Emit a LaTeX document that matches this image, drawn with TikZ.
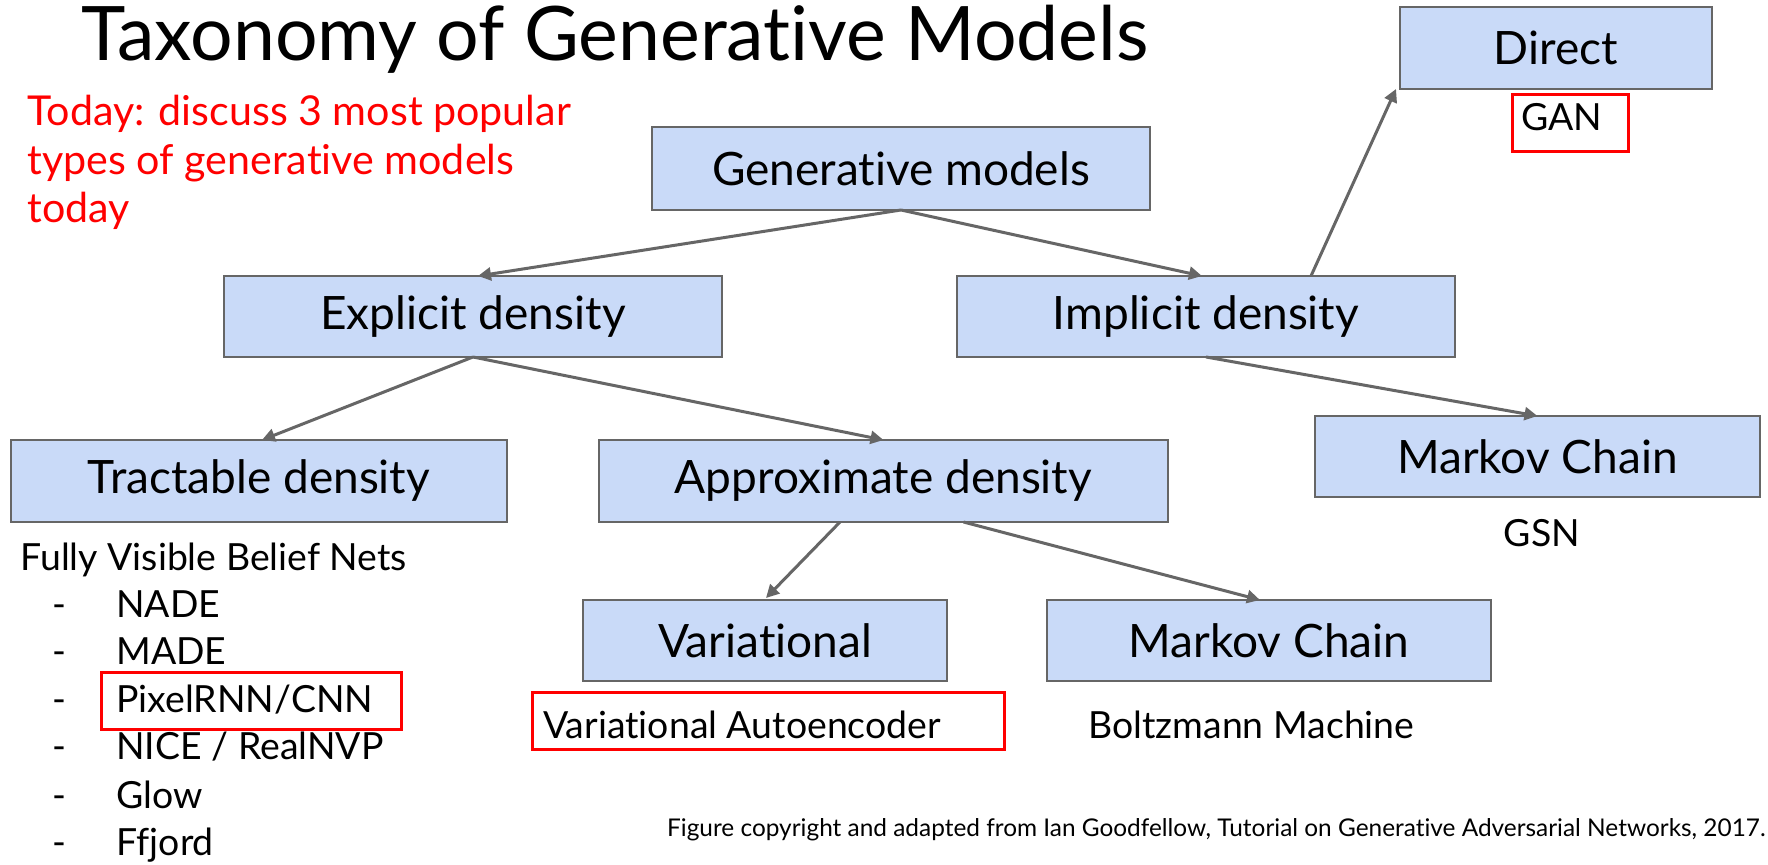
\documentclass[tikz,border=0pt]{standalone}
\usepackage{fontspec}
\setmainfont{Lato}[Ligatures=NoCommon]
\usetikzlibrary{arrows.meta}
\definecolor{boxblue}{HTML}{C9DAF8}
\definecolor{edgegray}{HTML}{666666}
\definecolor{hired}{HTML}{FF0000}
\begin{document}
\begin{tikzpicture}[x=0.5pt,y=-0.5pt,
  box/.style={draw=edgegray, line width=1pt, fill=boxblue, inner sep=0pt, outer sep=0pt,
    font=\fontsize{23}{28}\selectfont},
  arr/.style={draw=edgegray, line width=1.5pt, -{Triangle[length=6.5pt,width=6.5pt]}},
  redbox/.style={draw=hired, line width=1.5pt},
  lbl/.style={inner sep=0pt, anchor=base west},
  redtxt/.style={lbl, text=hired, font=\fontsize{20.6}{24}\selectfont},
  listtxt/.style={lbl, font=\fontsize{18.7}{22}\selectfont}]
\fill[white] (0,0) rectangle (1768,865);
\useasboundingbox (0,0) rectangle (1768,865);

% title
\node[lbl, font=\fontsize{37.6}{44}\selectfont] (title) at (81,61) {Taxonomy of Generative Models};

% red note
\node[redtxt] (note1) at (27,126) {Today: discuss 3 most popular};
\node[redtxt] (note2) at (27,175) {types of generative models};
\node[redtxt] (note3) at (27,223) {today};

% boxes
\node[box, minimum width=156pt, minimum height=41pt] (direct) at (1556,48) {Direct};
\node[box, minimum width=249pt, minimum height=41.5pt] (gen) at (901,168.5) {Generative models};
\node[box, minimum width=249pt, minimum height=40.5pt] (expl) at (473,316.5) {Explicit density};
\node[box, minimum width=249pt, minimum height=40.5pt] (impl) at (1206,316.5) {Implicit density};
\node[box, minimum width=248pt, minimum height=41pt] (tract) at (259,481) {Tractable density};
\node[box, minimum width=284.5pt, minimum height=41pt] (approx) at (883.5,481) {Approximate density};
\node[box, minimum width=222.5pt, minimum height=40.5pt] (mcone) at (1537.5,456.5) {Markov Chain};
\node[box, minimum width=182pt, minimum height=40.5pt] (var) at (765,640.5) {Variational};
\node[box, minimum width=222pt, minimum height=40.5pt] (mctwo) at (1269,640.5) {Markov Chain};

% arrows
\draw[arr] (gen.south) -- ([xshift=2.5pt]expl.north);
\draw[arr] (gen.south) -- ([xshift=-2pt]impl.north);
\draw[arr] ([xshift=52.5pt]impl.north) -- ([xshift=-2pt]direct.south west);
\draw[arr] (expl.south) -- ([xshift=1.5pt]tract.north);
\draw[arr] (expl.south) -- (approx.north);
\draw[arr] (impl.south) -- (mcone.north);
\draw[arr] ([xshift=-21.75pt]approx.south) -- ([xshift=0.5pt,yshift=1pt]var.north);
\draw[arr] ([xshift=40pt]approx.south) -- ([xshift=-4.5pt]mctwo.north);

% labels under boxes
\node[listtxt] (gan) at (1521,131) {GAN};
\draw[redbox] (1512,95) rectangle (1628,152);
\node[listtxt, anchor=base] (gsn) at (1542,547) {GSN};
\node[listtxt] (vae) at (543,739) {Variational Autoencoder};
\draw[redbox] (532,693) rectangle (1004,750);
\node[listtxt] (boltz) at (1088,739) {Boltzmann Machine};

% list
\node[listtxt] (fvbn) at (20,571) {Fully Visible Belief Nets};
\foreach \y/\t/\n in {618/{NADE}/nade, 665/{MADE}/made, 713/{PixelRNN/CNN}/pixel, 760/{NICE / RealNVP}/nice, 808/{Glow}/glow, 856/{Ffjord}/ffjord}{
  \node[listtxt] (d\n) at (52,\y) {-};
  \node[listtxt] (\n) at (116,\y) {\t};
}
\draw[redbox] (101,673) rectangle (401,730);

% footnote
\node[lbl, anchor=base east, font=\fontsize{12.2}{14}\selectfont] (foot) at (1766,836) {Figure copyright and adapted from Ian Goodfellow, Tutorial on Generative Adversarial Networks, 2017.};
\end{tikzpicture}
\end{document}
